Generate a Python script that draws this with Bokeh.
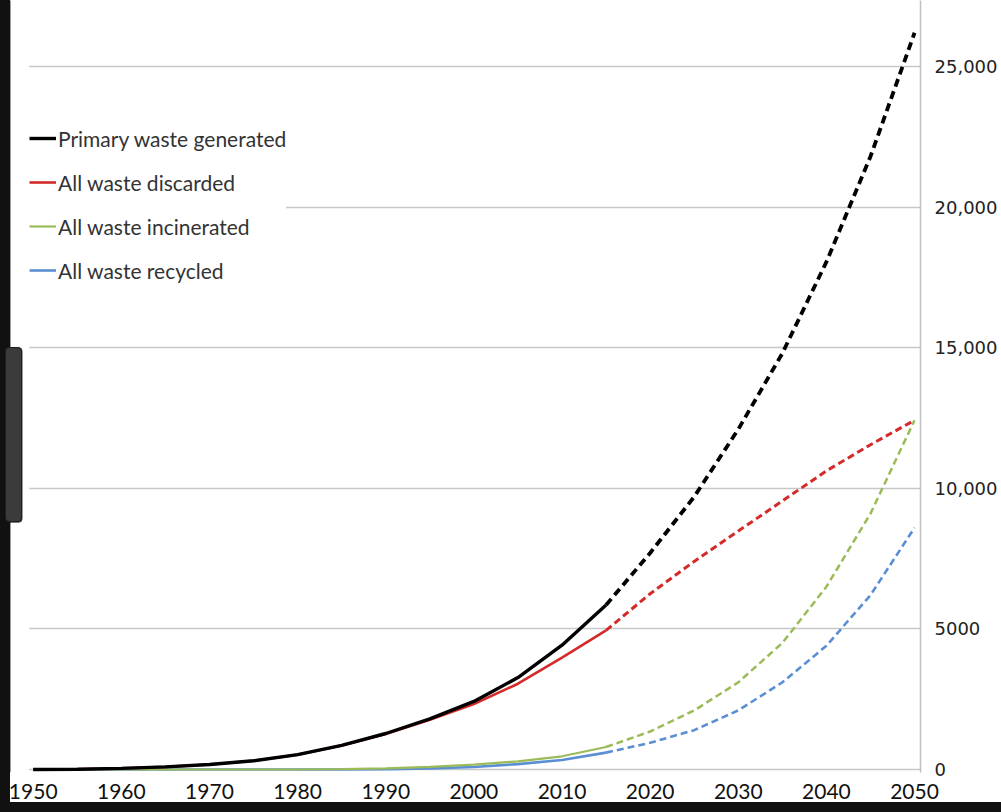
from bokeh.plotting import figure
from bokeh.layouts import column
from bokeh.models import Range1d, Legend, LegendItem, FixedTicker, BoxAnnotation, Div
from bokeh.embed import file_html
from bokeh.resources import INLINE

# ---- data (million metric tons, cumulative) ----
years_hist = [1950, 1955, 1960, 1965, 1970, 1975, 1980, 1985, 1990, 1995, 2000, 2005, 2010, 2015]
generated_hist = [0, 10, 40, 95, 180, 310, 530, 860, 1280, 1800, 2420, 3270, 4420, 5850]
discarded_hist = [0, 10, 40, 95, 180, 310, 525, 850, 1260, 1770, 2330, 3050, 3980, 4950]
incinerated_hist = [0, 0, 0, 0, 0, 0, 0, 10, 40, 90, 170, 290, 470, 800]
recycled_hist = [0, 0, 0, 0, 0, 0, 0, 0, 10, 40, 90, 190, 340, 600]

years_proj = [2015, 2020, 2025, 2030, 2035, 2040, 2045, 2050]
generated_proj = [5850, 7700, 9700, 12100, 14800, 18050, 21800, 26200]
discarded_proj = [4950, 6250, 7400, 8480, 9550, 10620, 11550, 12420]
incinerated_proj = [800, 1350, 2100, 3100, 4500, 6500, 9100, 12420]
recycled_proj = [600, 950, 1400, 2100, 3100, 4400, 6200, 8600]

series_names = ["Primary waste generated", "All waste discarded",
                "All waste incinerated", "All waste recycled"]
series_colors = ["#000000", "#d42a2a", "#9bbb59", "#5b8fd4"]

x_ticks = [1950, 1960, 1970, 1980, 1990, 2000, 2010, 2020, 2030, 2040, 2050]
y_ticks = [0, 5000, 10000, 15000, 20000, 25000]
y_tick_labels = ["0", "5000", "10,000", "15,000", "20,000", "25,000"]

# ---- layout geometry ----
PX_PER_YEAR = 8.89
PX_PER_UNIT = 0.02812
FRAME_W, FRAME_H = 928, 772
X0 = 1950 - 33 / PX_PER_YEAR
X1 = X0 + FRAME_W / PX_PER_YEAR
Y1 = 769 / PX_PER_UNIT
Y0 = -(FRAME_H - 769) / PX_PER_UNIT


def px_x(px):
    return X0 + px / PX_PER_YEAR


def px_y(py):
    return (769 - py) / PX_PER_UNIT


p = figure(width=1000, height=803,
           x_range=Range1d(X0, X1), y_range=Range1d(Y0, Y1),
           y_axis_location="right", output_backend="svg", toolbar_location=None,
           min_border_left=0, min_border_top=0, min_border_right=72, min_border_bottom=31)
p.margin = 0
p.outline_line_color = None
p.background_fill_color = "white"
p.border_fill_color = "white"

# axes
p.xaxis.ticker = FixedTicker(ticks=x_ticks)
p.xaxis.axis_line_color = None
p.xaxis.major_tick_line_color = None
p.xaxis.minor_tick_line_color = None
p.xaxis.major_label_standoff = 5
p.xaxis.major_label_text_font = "Lato"
p.xaxis.major_label_text_font_size = "21px"
p.xaxis.major_label_text_color = "#111111"

p.yaxis.ticker = FixedTicker(ticks=y_ticks)
p.yaxis.major_label_overrides = {t: l for t, l in zip(y_ticks, y_tick_labels)}
p.yaxis.axis_line_color = "#bfbfbf"
p.yaxis.axis_line_width = 1.5
p.yaxis.major_tick_line_color = None
p.yaxis.minor_tick_line_color = None
p.yaxis.major_label_standoff = 8
p.yaxis.major_label_text_font = "DejaVu Sans"
p.yaxis.major_label_text_font_size = "18px"
p.yaxis.major_label_text_color = "#222222"

p.xgrid.grid_line_color = None
p.ygrid.ticker = FixedTicker(ticks=y_ticks)
p.ygrid.grid_line_color = "#c8c8c8"
p.ygrid.grid_line_width = 1.5

# white mask where the gridlines do not reach (left margin of the original chart)
p.add_layout(BoxAnnotation(left=X0, right=px_x(29), fill_color="white", fill_alpha=1.0,
                           line_color=None, level="underlay"))
# white strip hiding the top of the axis line
p.add_layout(BoxAnnotation(bottom=px_y(10), fill_color="white", fill_alpha=1.0,
                           line_color=None, level="underlay"))

hist = [generated_hist, discarded_hist, incinerated_hist, recycled_hist]
proj = [generated_proj, discarded_proj, incinerated_proj, recycled_proj]
solid_w = [3.4, 2.6, 2.2, 2.6]
dash_w = [3.8, 3.0, 2.5, 2.6]
dashes = ["8 5", "7 4", "7 4", "7 4"]

order = [3, 2, 1, 0]
solid_r = {}
for i in order:
    p.line(years_proj, proj[i], line_color=series_colors[i], line_width=dash_w[i],
           line_dash=dashes[i])
    solid_r[i] = p.line(years_hist, hist[i], line_color=series_colors[i],
                        line_width=solid_w[i])

items = [LegendItem(label=series_names[i], renderers=[solid_r[i]]) for i in range(4)]
legend = Legend(items=items, location=(29, 480), padding=6, margin=0, spacing=0,
                glyph_width=27, glyph_height=44, label_height=44, label_standoff=2,
                label_text_font="Lato", label_text_font_size="21px",
                label_text_color="#333333", background_fill_color="white",
                background_fill_alpha=1.0, border_line_color=None)
p.add_layout(legend, "center")

# screenshot frame artefacts: black left edge and grey scroll tab
p.add_layout(BoxAnnotation(left=X0, right=px_x(10), fill_color="#111111", fill_alpha=1.0,
                           line_color=None, level="overlay"))
p.add_layout(BoxAnnotation(left=px_x(5), right=px_x(22), top=px_y(347), bottom=px_y(522),
                           fill_color="#3b3b3b", fill_alpha=1.0, line_color="#1e1e1e",
                           line_width=1, border_radius=4, level="overlay"))

frame_html = (
    '<div style="position:fixed;left:0;top:0;width:10px;height:812px;background:#111111;"></div>'
    '<div style="position:fixed;left:0;top:802px;width:1001px;height:10px;background:#111111;"></div>'
    '<div style="position:fixed;left:5px;top:347px;width:17px;height:175px;background:#3b3b3b;'
    'border:1px solid #1e1e1e;border-radius:4px;box-sizing:border-box;"></div>'
)
edges = Div(text=frame_html, width=1000, height=1, margin=0)

layout = column(p, edges, spacing=0)
open("out.html", "w").write(file_html(layout, INLINE))
